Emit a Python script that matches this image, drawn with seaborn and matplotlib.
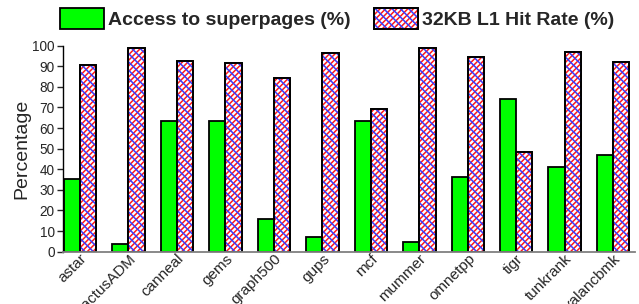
import matplotlib
matplotlib.use("Agg")
import matplotlib.pyplot as plt
import matplotlib.colors as mcolors
from matplotlib.patches import Rectangle
from matplotlib.legend_handler import HandlerTuple
import seaborn as sns
import pandas as pd

benchmarks = ["astar", "cactusADM", "canneal", "gems", "graph500", "gups",
              "mcf", "mummer", "omnetpp", "tigr", "tunkrank", "xalancbmk"]
superpages = [35.1, 3.7, 63.4, 63.4, 15.7, 7.0, 63.4, 4.6, 36.3, 74.1, 41.3, 46.8]
l1_hit = [90.6, 98.7, 92.7, 91.4, 84.5, 96.3, 69.3, 98.7, 94.4, 48.4, 97.1, 91.9]
series_names = ["Access to superpages (%)", "32KB L1 Hit Rate (%)"]
yticks = [0, 10, 20, 30, 40, 50, 60, 70, 80, 90, 100]

df = pd.DataFrame({
    "bench": benchmarks * 2,
    "metric": [series_names[0]] * len(benchmarks) + [series_names[1]] * len(benchmarks),
    "value": superpages + l1_hit,
})

sns.set_style("white")
plt.rcParams["font.family"] = ["Liberation Sans", "DejaVu Sans"]
plt.rcParams["hatch.linewidth"] = 1.1

RED = mcolors.to_rgba("#ff1a1a")
BLUE = mcolors.to_rgba("#3a3aff")

fig = plt.figure(figsize=(6.39, 3.04), dpi=100)
ax = fig.add_axes([0.0986, 0.172, 0.8951, 0.678])

sns.barplot(data=df, x="bench", y="value", hue="metric", ax=ax,
            palette=["#00ff00", "#ffffff"], width=0.67, legend=False,
            edgecolor="black", linewidth=1.3, saturation=1)


def make_overlay(p):
    ov = Rectangle(p.get_xy(), p.get_width(), p.get_height(), facecolor="none",
                   edgecolor="black", linewidth=1.3, hatch="\\\\\\\\",
                   zorder=p.get_zorder() + 0.1)
    ov._hatch_color = BLUE
    return ov


overlays = []
for p in list(ax.containers[1].patches):
    p.set_hatch("//////")
    p._hatch_color = RED
    ov = make_overlay(p)
    ax.add_patch(ov)
    ov._hatch_color = BLUE
    overlays.append(ov)

ax.set_xlim(-0.35, 11.45)
ax.set_ylim(0, 100)
ax.set_yticks(yticks)
ax.tick_params(axis="y", labelsize=9.8, length=4, width=1, direction="out", left=True, pad=2)
ax.tick_params(axis="x", labelsize=11, length=0, pad=0)
plt.setp(ax.get_xticklabels(), rotation=45, ha="right", rotation_mode="anchor")
ax.set_xlabel("")
ax.set_ylabel("Percentage", fontsize=14, labelpad=1)

for s in ["top", "right"]:
    ax.spines[s].set_visible(False)
ax.spines["left"].set_color("black")
ax.spines["left"].set_linewidth(1)
ax.spines["bottom"].set_color("#808080")
ax.spines["bottom"].set_linewidth(1.3)

# legend handles from the drawn bars
g_handle = ax.containers[0].patches[0]
r_handle = (ax.containers[1].patches[0], overlays[0])
leg = fig.legend([g_handle, r_handle], series_names, loc="upper left",
                 bbox_to_anchor=(0.094, 0.975), ncol=2, frameon=False,
                 prop={"weight": "bold", "size": 14}, handlelength=2.26,
                 handleheight=1.3, handletextpad=0.2, columnspacing=1.2,
                 borderaxespad=0.0, borderpad=0.0,
                 handler_map={tuple: HandlerTuple(ndivide=1, pad=0)})

fig.savefig("out.png", dpi=100)
